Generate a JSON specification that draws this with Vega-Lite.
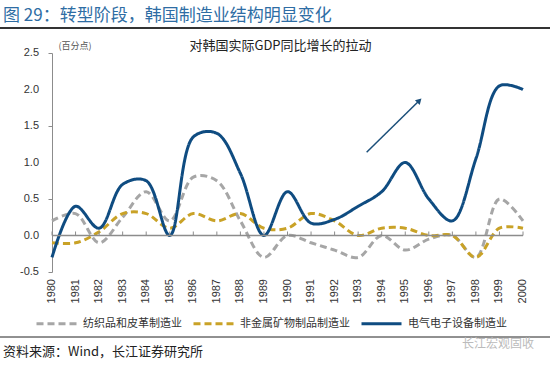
{
  "$schema": "https://vega.github.io/schema/vega-lite/v6.json",
  "width": 471,
  "height": 219,
  "autosize": {"type": "none"},
  "padding": {"left": 52, "top": 53, "right": 27, "bottom": 94},
  "background": "white",
  "config": {
    "view": {"stroke": null},
    "font": "Noto Sans CJK SC",
    "axis": {"grid": false}
  },
  "title": {
    "text": "图 29：转型阶段，韩国制造业结构明显变化",
    "anchor": "start",
    "frame": "group",
    "dx": -49,
    "offset": 2,
    "font": "Noto Sans CJK SC",
    "fontSize": 17,
    "fontWeight": "normal",
    "color": "#2E6DA4"
  },
  "datasets": {
    "series": [
      {"year": 1980, "series": "纺织品和皮革制造业", "value": 0.2},
      {"year": 1981, "series": "纺织品和皮革制造业", "value": 0.3},
      {"year": 1982, "series": "纺织品和皮革制造业", "value": -0.1},
      {"year": 1983, "series": "纺织品和皮革制造业", "value": 0.25},
      {"year": 1984, "series": "纺织品和皮革制造业", "value": 0.6},
      {"year": 1985, "series": "纺织品和皮革制造业", "value": 0.2},
      {"year": 1986, "series": "纺织品和皮革制造业", "value": 0.8},
      {"year": 1987, "series": "纺织品和皮革制造业", "value": 0.75},
      {"year": 1988, "series": "纺织品和皮革制造业", "value": 0.2},
      {"year": 1989, "series": "纺织品和皮革制造业", "value": -0.3},
      {"year": 1990, "series": "纺织品和皮革制造业", "value": 0.0},
      {"year": 1991, "series": "纺织品和皮革制造业", "value": -0.1},
      {"year": 1992, "series": "纺织品和皮革制造业", "value": -0.2},
      {"year": 1993, "series": "纺织品和皮革制造业", "value": -0.3},
      {"year": 1994, "series": "纺织品和皮革制造业", "value": 0.0},
      {"year": 1995, "series": "纺织品和皮革制造业", "value": -0.2},
      {"year": 1996, "series": "纺织品和皮革制造业", "value": -0.05},
      {"year": 1997, "series": "纺织品和皮革制造业", "value": 0.0},
      {"year": 1998, "series": "纺织品和皮革制造业", "value": -0.3},
      {"year": 1999, "series": "纺织品和皮革制造业", "value": 0.5},
      {"year": 2000, "series": "纺织品和皮革制造业", "value": 0.2},
      {"year": 1980, "series": "非金属矿物制品制造业", "value": -0.1},
      {"year": 1981, "series": "非金属矿物制品制造业", "value": -0.1},
      {"year": 1982, "series": "非金属矿物制品制造业", "value": 0.05},
      {"year": 1983, "series": "非金属矿物制品制造业", "value": 0.3},
      {"year": 1984, "series": "非金属矿物制品制造业", "value": 0.3},
      {"year": 1985, "series": "非金属矿物制品制造业", "value": 0.1},
      {"year": 1986, "series": "非金属矿物制品制造业", "value": 0.3},
      {"year": 1987, "series": "非金属矿物制品制造业", "value": 0.2},
      {"year": 1988, "series": "非金属矿物制品制造业", "value": 0.3},
      {"year": 1989, "series": "非金属矿物制品制造业", "value": 0.1},
      {"year": 1990, "series": "非金属矿物制品制造业", "value": 0.1},
      {"year": 1991, "series": "非金属矿物制品制造业", "value": 0.3},
      {"year": 1992, "series": "非金属矿物制品制造业", "value": 0.2},
      {"year": 1993, "series": "非金属矿物制品制造业", "value": 0.0},
      {"year": 1994, "series": "非金属矿物制品制造业", "value": 0.1},
      {"year": 1995, "series": "非金属矿物制品制造业", "value": 0.1},
      {"year": 1996, "series": "非金属矿物制品制造业", "value": 0.0},
      {"year": 1997, "series": "非金属矿物制品制造业", "value": 0.0},
      {"year": 1998, "series": "非金属矿物制品制造业", "value": -0.3},
      {"year": 1999, "series": "非金属矿物制品制造业", "value": 0.1},
      {"year": 2000, "series": "非金属矿物制品制造业", "value": 0.1},
      {"year": 1980, "series": "电气电子设备制造业", "value": -0.3},
      {"year": 1981, "series": "电气电子设备制造业", "value": 0.4},
      {"year": 1982, "series": "电气电子设备制造业", "value": 0.1},
      {"year": 1983, "series": "电气电子设备制造业", "value": 0.7},
      {"year": 1984, "series": "电气电子设备制造业", "value": 0.75},
      {"year": 1985, "series": "电气电子设备制造业", "value": 0.0},
      {"year": 1986, "series": "电气电子设备制造业", "value": 1.35},
      {"year": 1987, "series": "电气电子设备制造业", "value": 1.4},
      {"year": 1988, "series": "电气电子设备制造业", "value": 0.85},
      {"year": 1989, "series": "电气电子设备制造业", "value": 0.0},
      {"year": 1990, "series": "电气电子设备制造业", "value": 0.6},
      {"year": 1991, "series": "电气电子设备制造业", "value": 0.17},
      {"year": 1992, "series": "电气电子设备制造业", "value": 0.22},
      {"year": 1993, "series": "电气电子设备制造业", "value": 0.4},
      {"year": 1994, "series": "电气电子设备制造业", "value": 0.6},
      {"year": 1995, "series": "电气电子设备制造业", "value": 1.0},
      {"year": 1996, "series": "电气电子设备制造业", "value": 0.5},
      {"year": 1997, "series": "电气电子设备制造业", "value": 0.2},
      {"year": 1998, "series": "电气电子设备制造业", "value": 1.05},
      {"year": 1999, "series": "电气电子设备制造业", "value": 2.05},
      {"year": 2000, "series": "电气电子设备制造业", "value": 2.0}
    ],
    "yticks": [
      {"tick": -0.5, "label": "-0.5"},
      {"tick": 0, "label": "0.0"},
      {"tick": 0.5, "label": "0.5"},
      {"tick": 1, "label": "1.0"},
      {"tick": 1.5, "label": "1.5"},
      {"tick": 2, "label": "2.0"},
      {"tick": 2.5, "label": "2.5"}
    ]
  },
  "layer": [
    {
      "data": {"name": "series"},
      "mark": {"type": "line", "interpolate": "catmull-rom", "strokeWidth": 3},
      "encoding": {
        "x": {
          "field": "year",
          "type": "quantitative",
          "scale": {"domain": [1980, 2000], "nice": false, "zero": false},
          "axis": {
            "labels": false,
            "domain": false,
            "ticks": false,
            "grid": false,
            "title": "对韩国实际GDP同比增长的拉动",
            "titleX": 228,
            "titleY": -227,
            "titleAngle": 0,
            "titleAlign": "center",
            "titleBaseline": "middle",
            "titleFont": "Noto Sans CJK SC",
            "titleFontSize": 13,
            "titleFontWeight": "normal",
            "titleColor": "#222222"
          }
        },
        "y": {
          "field": "value",
          "type": "quantitative",
          "scale": {"domain": [-0.5, 2.5], "nice": false},
          "axis": {
            "values": [-0.5, 0, 0.5, 1, 1.5, 2, 2.5],
            "labels": false,
            "grid": false,
            "domainColor": "#8C8C8C",
            "tickColor": "#8C8C8C",
            "tickSize": 4,
            "title": "(百分点)",
            "titleX": 6,
            "titleY": -8,
            "titleAngle": 0,
            "titleAlign": "left",
            "titleBaseline": "middle",
            "titleFont": "Noto Sans CJK SC",
            "titleFontSize": 9,
            "titleFontWeight": "normal",
            "titleColor": "#555555"
          }
        },
        "color": {
          "field": "series",
          "type": "nominal",
          "scale": {
            "domain": ["纺织品和皮革制造业", "非金属矿物制品制造业", "电气电子设备制造业"],
            "range": ["#A6A6A6", "#C9A227", "#0F4C81"]
          },
          "legend": {
            "title": null,
            "orient": "none",
            "legendX": -17,
            "legendY": 249,
            "direction": "horizontal",
            "symbolType": "stroke",
            "symbolSize": 1600,
            "symbolStrokeWidth": 3,
            "columnPadding": 5,
            "labelOffset": 5,
            "labelFont": "Noto Sans CJK SC",
            "labelFontSize": 11,
            "labelLimit": 200,
            "labelColor": "#333333"
          }
        },
        "strokeDash": {
          "field": "series",
          "type": "nominal",
          "scale": {
            "domain": ["纺织品和皮革制造业", "非金属矿物制品制造业", "电气电子设备制造业"],
            "range": [[7, 4], [7, 4], [1, 0]]
          },
          "legend": {
            "title": null,
            "orient": "none",
            "legendX": -17,
            "legendY": 249,
            "direction": "horizontal",
            "symbolType": "stroke",
            "symbolSize": 1600,
            "symbolStrokeWidth": 3,
            "columnPadding": 5,
            "labelOffset": 5,
            "labelFont": "Noto Sans CJK SC",
            "labelFontSize": 11,
            "labelLimit": 200,
            "labelColor": "#333333"
          }
        }
      }
    },
    {
      "data": {"values": [{"v": 0}]},
      "mark": {"type": "rule", "color": "#8C8C8C", "strokeWidth": 1.5},
      "encoding": {
        "y": {"field": "v", "type": "quantitative"}
      }
    },
    {
      "data": {"name": "series"},
      "transform": [{"filter": "datum.series === '电气电子设备制造业'"}],
      "mark": {"type": "rule", "color": "#8C8C8C", "strokeWidth": 1},
      "encoding": {
        "x": {"field": "year", "type": "quantitative"},
        "y": {"datum": 0, "type": "quantitative"},
        "y2": {"datum": 0.055}
      }
    },
    {
      "data": {"name": "series"},
      "transform": [{"filter": "datum.series === '电气电子设备制造业'"}],
      "mark": {"type": "text", "angle": 270, "align": "right", "baseline": "middle", "font": "Liberation Sans", "fontSize": 11, "color": "#333333", "yOffset": 7},
      "encoding": {
        "x": {"field": "year", "type": "quantitative"},
        "y": {"datum": -0.5, "type": "quantitative"},
        "text": {"field": "year", "type": "nominal"}
      }
    },
    {
      "data": {"name": "yticks"},
      "mark": {"type": "text", "align": "right", "baseline": "middle", "font": "Liberation Sans", "fontSize": 11, "color": "#333333", "xOffset": -13},
      "encoding": {
        "x": {"datum": 1980, "type": "quantitative"},
        "y": {"field": "tick", "type": "quantitative"},
        "text": {"field": "label", "type": "nominal"}
      }
    },
    {
      "data": {"values": [{"x": 1993.36, "y": 1.14, "x2": 1995.6, "y2": 1.85}]},
      "mark": {"type": "rule", "color": "#1B4F7A", "strokeWidth": 1.5},
      "encoding": {
        "x": {"field": "x", "type": "quantitative"},
        "y": {"field": "y", "type": "quantitative"},
        "x2": {"field": "x2"},
        "y2": {"field": "y2"}
      }
    },
    {
      "data": {"values": [{"x2": 1995.6, "y2": 1.85}]},
      "mark": {"type": "point", "shape": "triangle-up", "filled": true, "angle": 45, "size": 45, "color": "#1B4F7A", "opacity": 1},
      "encoding": {
        "x": {"field": "x2", "type": "quantitative"},
        "y": {"field": "y2", "type": "quantitative"}
      }
    },
    {
      "data": {"values": [{}]},
      "mark": {"type": "rule", "color": "#333333", "strokeWidth": 2},
      "encoding": {"x": {"value": -52}, "x2": {"value": 498}, "y": {"value": -25}}
    },
    {
      "data": {"values": [{}]},
      "mark": {"type": "rule", "color": "#222222", "strokeWidth": 1},
      "encoding": {"x": {"value": -52}, "x2": {"value": 498}, "y": {"value": 284}}
    },
    {
      "data": {"values": [{"t": "资料来源：Wind，长江证券研究所"}]},
      "mark": {"type": "text", "align": "left", "baseline": "middle", "font": "Noto Sans CJK SC", "fontSize": 13, "color": "#222222"},
      "encoding": {"text": {"field": "t"}, "x": {"value": -49}, "y": {"value": 299}}
    },
    {
      "data": {"values": [{"t": "长江宏观固收"}]},
      "mark": {"type": "text", "align": "left", "baseline": "middle", "font": "Noto Sans CJK SC", "fontSize": 12, "color": "#BBBBBB"},
      "encoding": {"text": {"field": "t"}, "x": {"value": 410}, "y": {"value": 291}}
    }
  ]
}
